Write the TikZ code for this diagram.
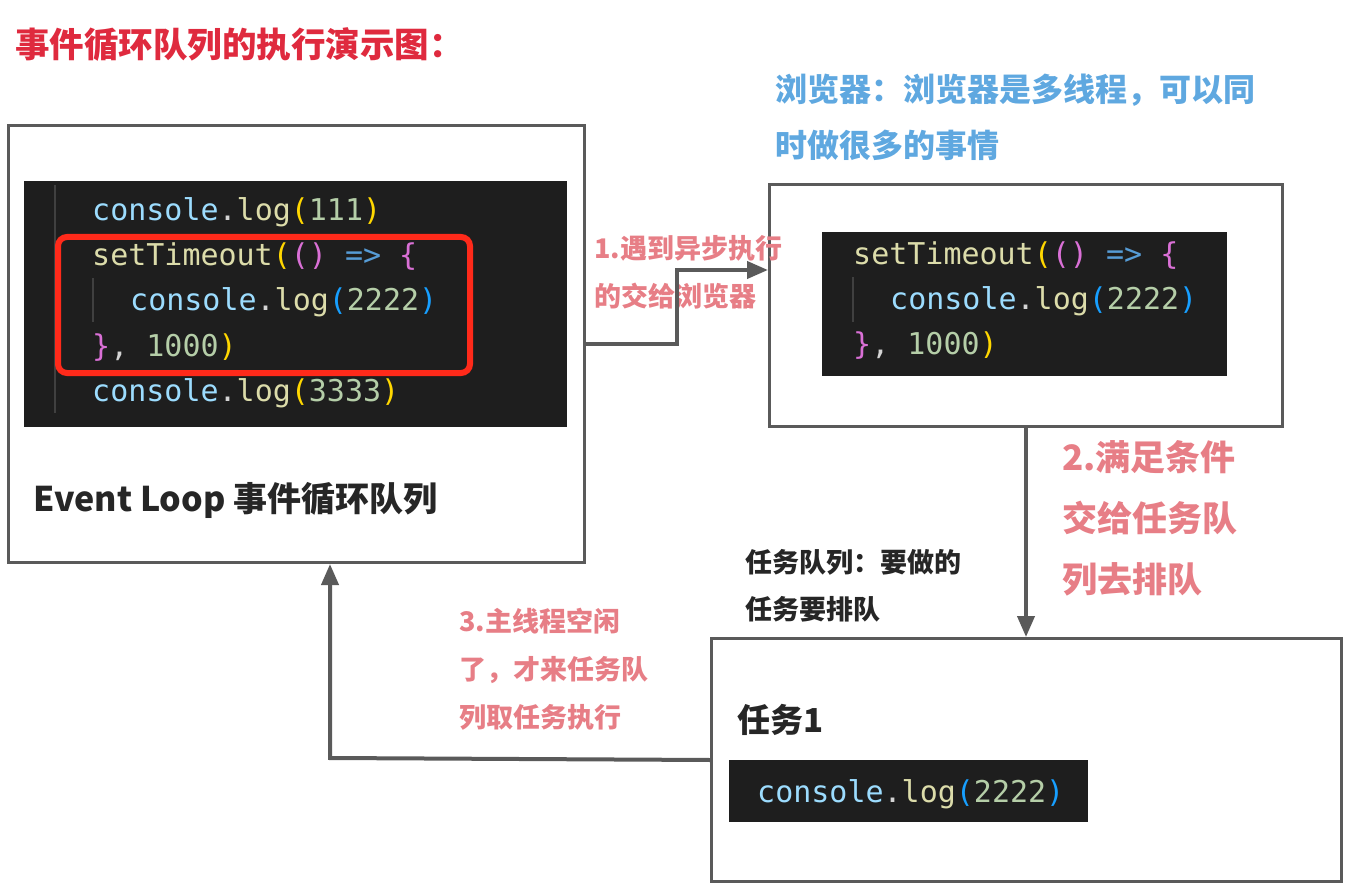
\documentclass[tikz,border=0pt]{standalone}
\usepackage{fontspec}
\newfontfamily\cjk{Noto Sans CJK SC}
\newfontfamily\codefont{DejaVu Sans Mono}
\usetikzlibrary{arrows.meta,positioning}
\definecolor{elgray}   {HTML}{5A5A5A}
\definecolor{elcodebg} {HTML}{1E1E1E}
\definecolor{elguidec} {HTML}{404040}
\definecolor{elred}    {HTML}{FF2A1A}
\definecolor{eltitle}  {HTML}{DF2A3E}
\definecolor{elpink}   {HTML}{E77E86}
\definecolor{elblue}   {HTML}{5FA8E0}
\definecolor{elink}    {HTML}{262626}
\definecolor{cvar}     {HTML}{9CDCFE}
\definecolor{cfun}     {HTML}{DCDCAA}
\definecolor{cnum}     {HTML}{B5CEA8}
\definecolor{cpunc}    {HTML}{D4D4D4}
\definecolor{ckey}     {HTML}{569CD6}
\definecolor{cbra1}    {HTML}{FFD700}
\definecolor{cbra2}    {HTML}{DA70D6}
\definecolor{cbra3}    {HTML}{179FFF}
\newcommand{\cv}[1]{\textcolor{cvar}{#1}}
\newcommand{\cf}[1]{\textcolor{cfun}{#1}}
\newcommand{\cn}[1]{\textcolor{cnum}{#1}}
\newcommand{\cp}[1]{\textcolor{cpunc}{#1}}
\newcommand{\ck}[1]{\textcolor{ckey}{#1}}
\newcommand{\cy}[1]{\textcolor{cbra1}{#1}}
\newcommand{\cm}[1]{\textcolor{cbra2}{#1}}
\newcommand{\cb}[1]{\textcolor{cbra3}{#1}}
\tikzset{
  elframe/.style={draw=elgray, line width=3pt, fill=white, inner sep=0pt, anchor=north west},
  elcode/.style={fill=elcodebg, inner sep=0pt, anchor=north west},
  elguide/.style={draw=elguidec, line width=1.5pt},
  elline/.style={font=\codefont\fontsize{30}{36}\selectfont, inner sep=0pt, anchor=base west},
  elmark/.style={draw=elred, line width=6pt, rounded corners=9pt, inner sep=0pt, anchor=north west},
  elflow/.style={draw=elgray, line width=4pt, -{Triangle[length=21pt,width=17pt]}},
  ellabel/.style={font=\cjk\bfseries\fontsize{27}{48}\selectfont, text=elpink, align=left,
                  inner sep=0pt, anchor=north west},
  elnote/.style={font=\cjk\bfseries\fontsize{27}{47}\selectfont, text=elink, align=left,
                 inner sep=0pt, anchor=north west},
}
\begin{document}
\begin{tikzpicture}[x=1pt,y=-1pt]
  \useasboundingbox (0,0) rectangle (1352,885);
  % title
  \node[font=\cjk\bfseries\fontsize{34.5}{40}\selectfont, text=eltitle, inner sep=0pt, anchor=north west]
    (title) at (15,27) {事件循环队列的执行演示图：};
  % the three boxes
  \node[elframe, minimum width=576pt, minimum height=437pt] (loop) at (7,124) {};
  \node[elframe, minimum width=513pt, minimum height=242pt] (browser) at (768,183) {};
  \node[elframe, minimum width=630pt, minimum height=243pt] (queue) at (710,637) {};
  % event loop code
  \node[elcode, minimum width=543pt, minimum height=246pt] (codeA) at (24,181) {};
  \draw[elguide] (55,185) -- (55,413);
  \draw[elguide] (93,278) -- (93,322);
  \node[elline] (a1) at (92,221) {\cv{console}\cp{.}\cf{log}\cy{(}\cn{111}\cy{)}};
  \node[elline] (a2) at (92,266) {\cf{setTimeout}\cy{(}\cm{()} \ck{=>} \cm{\{}};
  \node[elline] (a3) at (130,311) {\cv{console}\cp{.}\cf{log}\cb{(}\cn{2222}\cb{)}};
  \node[elline] (a4) at (92,356) {\cm{\}}\cp{,} \cn{1000}\cy{)}};
  \node[elline] (a5) at (92,401) {\cv{console}\cp{.}\cf{log}\cy{(}\cn{3333}\cy{)}};
  \node[elmark, minimum width=412pt, minimum height=136pt] (mark) at (55,234) {};
  \node[font=\cjk\bfseries\fontsize{34}{40}\selectfont, text=elink, inner sep=0pt, anchor=west]
    (loopname) at (33,500) {Event Loop 事件循环队列};
  % browser code
  \node[elcode, minimum width=405pt, minimum height=144pt] (codeB) at (822,232) {};
  \draw[elguide] (853,277) -- (853,322);
  \node[elline] (b1) at (853,265) {\cf{setTimeout}\cy{(}\cm{()} \ck{=>} \cm{\{}};
  \node[elline] (b2) at (890,309) {\cv{console}\cp{.}\cf{log}\cb{(}\cn{2222}\cb{)}};
  \node[elline] (b3) at (853,354) {\cm{\}}\cp{,} \cn{1000}\cy{)}};
  \node[font=\cjk\bfseries\fontsize{32}{56}\selectfont, text=elblue, align=left, inner sep=0pt,
        anchor=north west] (browsernote) at (775,74) {浏览器：浏览器是多线程，可以同\\时做很多的事情};
  % task queue
  \node[font=\cjk\bfseries\fontsize{33}{40}\selectfont, text=elink, inner sep=0pt, anchor=west]
    (task) at (737,720) {任务1};
  \node[elcode, minimum width=359pt, minimum height=62pt] (codeC) at (729,760) {};
  \node[elline] (c1) at (757,802) {\cv{console}\cp{.}\cf{log}\cb{(}\cn{2222}\cb{)}};
  \node[elnote] (queuenote) at (745,549) {任务队列：要做的\\任务要排队};
  % step labels
  \node[ellabel] (step1) at (594,235) {1.遇到异步执行\\的交给浏览器};
  \node[ellabel, font=\cjk\bfseries\fontsize{35}{61}\selectfont] (step2) at (1062,440)
    {2.满足条件\\交给任务队\\列去排队};
  \node[ellabel] (step3) at (459,608) {3.主线程空闲\\了，才来任务队\\列取任务执行};
  % connectors
  \coordinate (jog1) at (677,270);
  \coordinate (jog3) at (330,758);
  \draw[elflow] (loop.east) -| (jog1) -- (jog1 -| browser.west);
  \draw[elflow] (browser.south) -- (browser.south |- queue.north);
  \draw[elflow] (queue.west) -- (jog3) -- (jog3 |- loop.south);
\end{tikzpicture}
\end{document}
